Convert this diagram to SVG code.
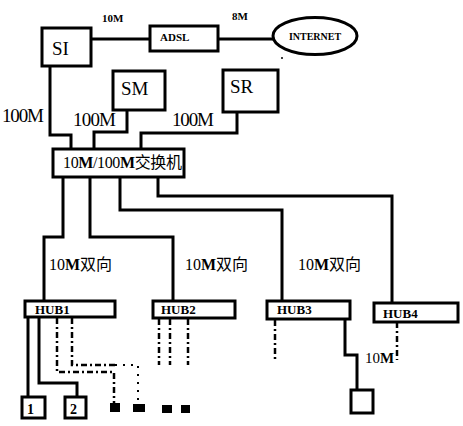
<svg xmlns="http://www.w3.org/2000/svg" width="463" height="426" viewBox="0 0 463 426">
<style>
.box{fill:#fff;stroke:#000;stroke-width:3}
.ln{fill:none;stroke:#000;stroke-width:3}
.dash{fill:none;stroke:#000;stroke-width:2.5;stroke-dasharray:6,3,2,3}
.dot{fill:none;stroke:#000;stroke-width:2;stroke-dasharray:2,6}
.sq{fill:#000}
.serif{font-family:"Liberation Serif","Noto Sans CJK SC",serif;fill:#000}
.big{font-size:19px}
.mid{font-size:16px}
.small{font-size:11px;font-weight:bold}
.hub{font-size:13px;font-weight:bold}
.num{font-size:14px;font-weight:bold}
</style>
<rect width="463" height="426" fill="#fff"/>
<g id="connectors">
  <path class="ln" d="M91,39 H150 M218,39 H273"/>
  <path class="ln" d="M50,66 V135 H71 V149"/>
  <path class="ln" d="M127,110 V132 H94 V149"/>
  <path class="ln" d="M237,112 V133 H141 V149"/>
  <path class="ln" d="M63,177 V237 H44 V301"/>
  <path class="ln" d="M90,177 V237 H173 V301"/>
  <path class="ln" d="M120,177 V210 H282 V301"/>
  <path class="ln" d="M158,177 V196 H392 V303"/>
  <path class="ln" d="M28,317 V397"/>
  <path class="ln" d="M39,317 V383 H77 V397"/>
  <path class="dash" d="M57,318 V372 H114 V403"/>
  <path class="dash" d="M72,318 V365 H115"/>
  <path class="dot" d="M115,365 H138 V403"/>
  <path class="dash" d="M159,319 V365 M170,319 V365 M188,319 V365"/>
  <path class="dash" d="M275,320 V362"/>
  <path class="ln" d="M345,319 V355 H357 V390"/>
  <path class="dash" d="M397,322 V360"/>
</g>
<g id="label-10M-top"><text class="serif small" x="102" y="22">10M</text></g>
<g id="label-8M"><text class="serif small" x="232" y="20">8M</text></g>
<g id="SI"><rect class="box" x="42" y="28" width="49" height="38"/><text class="serif big" x="52" y="55">SI</text></g>
<g id="ADSL"><rect class="box" x="150" y="26" width="68" height="25"/><text class="serif small" x="160" y="41">ADSL</text></g>
<g id="INTERNET"><ellipse cx="315" cy="36" rx="42" ry="18.5" fill="#fff" stroke="#000" stroke-width="3"/><text class="serif" font-size="10" font-weight="bold" x="315" y="40" text-anchor="middle">INTERNET</text><circle cx="282" cy="58" r="1" fill="#000"/></g>
<g id="SM"><rect class="box" x="113" y="71" width="52" height="39"/><text class="serif big" x="121" y="95">SM</text></g>
<g id="SR"><rect class="box" x="223" y="70" width="55" height="42"/><text class="serif big" x="230" y="93">SR</text></g>
<g id="labels-100M">
  <text class="serif big" x="2" y="122" textLength="42">100M</text>
  <text class="serif big" x="73" y="126" textLength="43">100M</text>
  <text class="serif big" x="172" y="126" textLength="42">100M</text>
</g>
<g id="switch"><rect class="box" x="53" y="149" width="131" height="28"/><text class="serif mid" x="63" y="168" textLength="119">10<tspan font-weight="bold">M</tspan>/100<tspan font-weight="bold">M</tspan>交换机</text></g>
<g id="labels-10M-bidir">
  <text class="serif mid" x="49" y="270">10<tspan font-weight="bold">M</tspan>双向</text>
  <text class="serif mid" x="185" y="270">10<tspan font-weight="bold">M</tspan>双向</text>
  <text class="serif mid" x="298" y="270">10<tspan font-weight="bold">M</tspan>双向</text>
</g>
<g id="HUB1"><rect class="box" x="25" y="301" width="90" height="16"/><text class="serif hub" x="35" y="314">HUB1</text></g>
<g id="HUB2"><rect class="box" x="153" y="301" width="82" height="17"/><text class="serif hub" x="161" y="314">HUB2</text></g>
<g id="HUB3"><rect class="box" x="267" y="301" width="83" height="18"/><text class="serif hub" x="277" y="314">HUB3</text></g>
<g id="HUB4"><rect class="box" x="374" y="303" width="84" height="19"/><text class="serif hub" x="383" y="318">HUB4</text></g>
<g id="PC1"><rect class="box" x="22" y="397" width="23" height="21"/><text class="serif num" x="27" y="414">1</text></g>
<g id="PC2"><rect class="box" x="65" y="397" width="21" height="21"/><text class="serif num" x="70" y="414">2</text></g>
<g id="terminals">
  <rect class="sq" x="110" y="403" width="10" height="9"/>
  <rect class="sq" x="133" y="404" width="12" height="8"/>
  <rect class="sq" x="162" y="405" width="10" height="8"/>
  <rect class="sq" x="181" y="405" width="9" height="8"/>
</g>
<g id="PC3"><rect class="box" x="351" y="390" width="22" height="23"/></g>
<g id="label-10M-bottom"><text class="serif" font-size="15" x="365" y="363">10<tspan font-weight="bold">M</tspan></text></g>
</svg>
